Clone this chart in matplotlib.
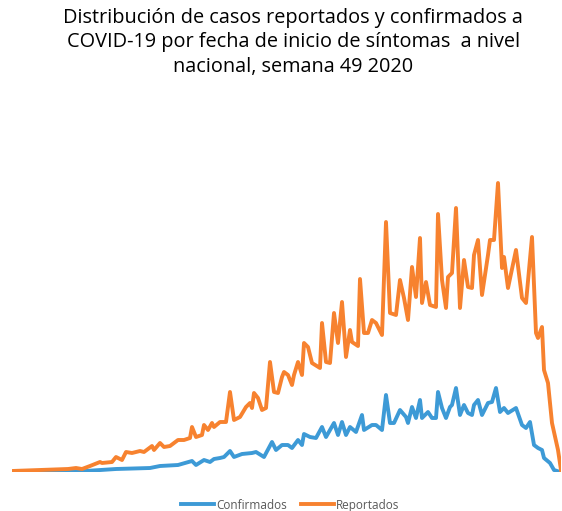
import matplotlib
matplotlib.use("Agg")
import matplotlib.pyplot as plt

# day index since first onset date, daily cases by onset date
conf_days = [0, 29, 52, 69, 74, 83, 90, 92, 96, 99, 101, 104, 106, 109, 111, 115,
             120, 122, 126, 130, 132, 135, 138, 140, 143, 145, 146, 149, 152, 155,
             157, 161, 163, 165, 167, 169, 172, 175, 176, 180, 182, 185, 187, 189,
             191, 194, 197, 198, 200, 202, 204, 205, 208, 210, 212, 213, 215, 217,
             219, 220, 222, 224, 226, 228, 230, 231, 233, 235, 238, 240, 242, 244,
             246, 248, 252, 255, 257, 259, 261, 263, 265, 266, 269, 271, 274]
conf_vals = [0, 0, 90, 120, 180, 210, 330, 210, 360, 300, 390, 420, 450, 630, 450, 540,
             570, 600, 450, 900, 660, 810, 810, 720, 960, 810, 1140, 1050, 1020, 1350,
             1050, 1470, 1110, 1500, 1110, 1350, 1200, 1710, 1260, 1410, 1410, 1260, 2310, 1470,
             1470, 1860, 1650, 1470, 1950, 1620, 2160, 1620, 1800, 1620, 1620, 2400, 1920, 1620,
             1950, 2010, 2520, 1710, 2010, 1770, 1710, 2010, 2160, 1710, 2070, 2100, 2520, 1800,
             1920, 1770, 1920, 1410, 1320, 1500, 810, 720, 660, 420, 270, 60, 0]

rep_days = [0, 14, 28, 32, 35, 39, 44, 45, 50, 52, 55, 57, 60, 64, 66, 70, 71, 74, 76,
            79, 81, 83, 86, 89, 90, 92, 95, 96, 98, 100, 101, 104, 107, 109, 111, 114,
            117, 119, 120, 121, 123, 125, 127, 129, 131, 133, 135, 136, 138, 140, 141,
            143, 145, 146, 148, 150, 154, 155, 157, 159, 161, 163, 165, 167, 169, 170,
            173, 174, 176, 178, 180, 182, 185, 187, 189, 192, 194, 196, 198, 200, 202,
            204, 205, 207, 209, 212, 213, 215, 217, 218, 220, 222, 224, 226, 228, 230,
            231, 233, 235, 238, 239, 241, 243, 245, 246, 248, 252, 255, 257, 260, 262,
            263, 265, 266, 268, 270, 273, 274.5]
rep_vals = [30, 60, 90, 120, 90, 180, 300, 270, 300, 450, 360, 600, 570, 630, 600, 780, 660, 870, 750,
            780, 870, 960, 960, 1020, 1350, 1050, 1110, 1410, 1260, 1470, 1350, 1500, 1500, 2400, 1560, 1650,
            1950, 2070, 1920, 2370, 2220, 1860, 1920, 3300, 2400, 2370, 2850, 3000, 2910, 2610, 2910,
            3300, 2910, 3870, 3750, 3270, 3120, 4470, 3300, 3270, 4770, 3870, 5100, 3450, 4260, 3900,
            3780, 5790, 4170, 4170, 4560, 4470, 4110, 7500, 4770, 4710, 5760, 5220, 4560, 6150, 5250,
            7020, 5070, 5700, 5010, 4950, 7740, 5760, 4920, 5850, 5970, 7920, 4920, 6360, 5550, 5520,
            6510, 6960, 5310, 6510, 6960, 6960, 8670, 6120, 6450, 5520, 6660, 5220, 5070, 7050, 4170,
            4020, 4350, 3060, 2670, 1470, 660, 60]

title = ("Distribución de casos reportados y confirmados a\n"
         "COVID-19 por fecha de inicio de síntomas  a nivel\n"
         "nacional, semana 49 2020")

BLUE = "#3D9AD6"
ORANGE = "#F7822F"

plt.rcParams["font.family"] = ["Open Sans", "DejaVu Sans"]

fig = plt.figure(figsize=(5.62, 5.11), dpi=100)
ax = fig.add_axes([12 / 562, 39 / 511, 549 / 562, 300 / 511])

ax.plot(conf_days, conf_vals, color=BLUE, lw=2.8, label="Confirmados", solid_joinstyle="round")
ax.plot(rep_days, rep_vals, color=ORANGE, lw=2.8, label="Reportados", solid_joinstyle="round")

ax.set_xlim(0, 274.5)
ax.set_ylim(0, 9000)
ax.axis("off")

fig.text(0.522, 1 - 72 / 511, title, ha="center", va="baseline", fontsize=14.3,
         linespacing=1.3, color="black")

fig.legend(loc="center", bbox_to_anchor=(0.516, 1 - 505 / 511), ncol=2, frameon=False,
           fontsize=8.5, handlelength=2.8, handletextpad=0.15, columnspacing=1.2,
           labelcolor="#595959")

fig.savefig("out.png", dpi=100)
